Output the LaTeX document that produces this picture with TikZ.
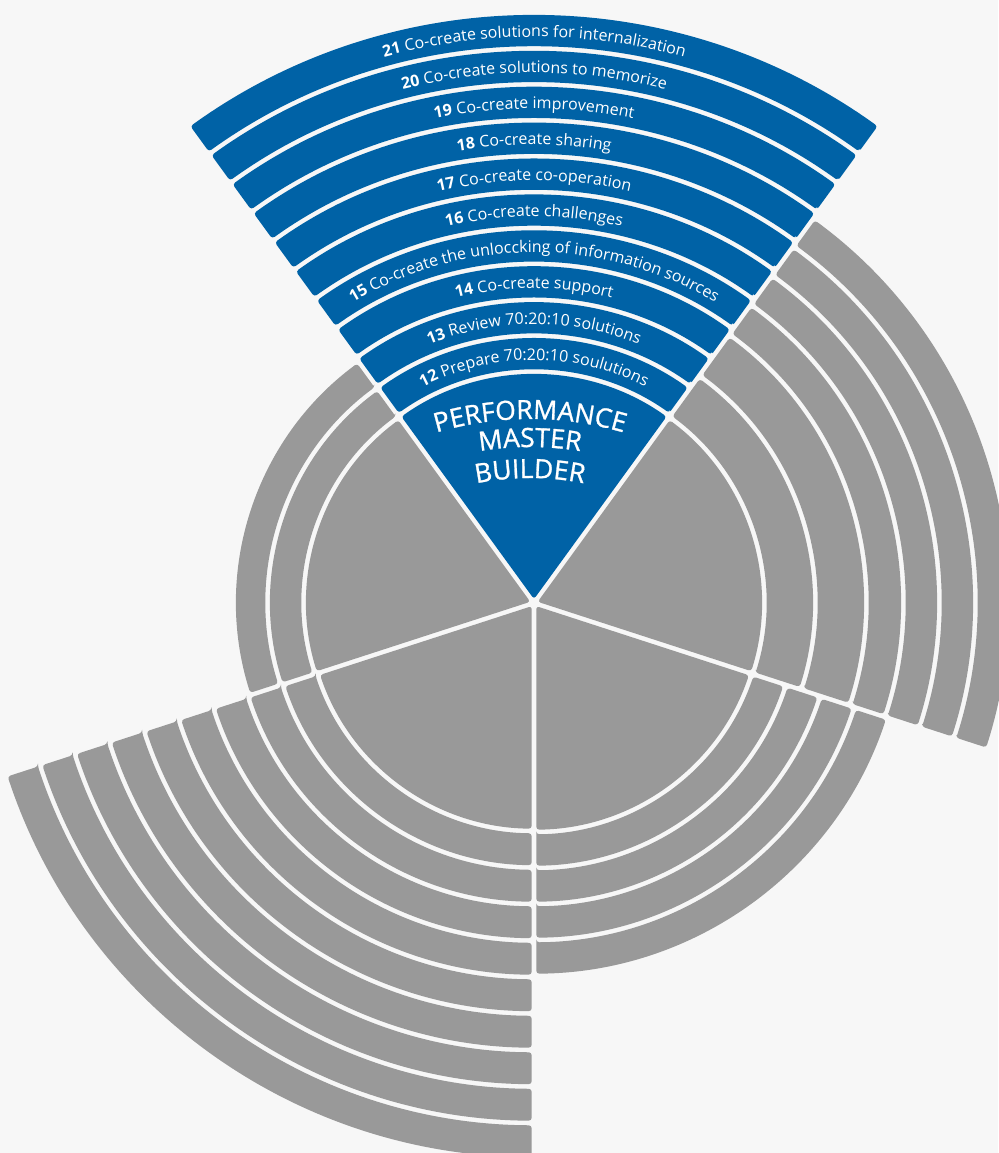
\documentclass[tikz,border=0pt]{standalone}
\usepackage{fontspec}
\setmainfont{Open Sans}
\usepackage{tikz}
\usetikzlibrary{decorations.text}

\definecolor{pmblue}{RGB}{0,98,166}
\definecolor{pmgrey}{RGB}{153,153,153}
\definecolor{pmbg}{RGB}{247,247,247}

\newcommand{\ringfont}{\fontsize{16}{19}\selectfont}
\newfontfamily\pmfamily[FakeBold=1]{Open Sans}
\newcommand{\pmfont}{\pmfamily\fontsize{26.5}{31}\selectfont}

% ring piece: fill, from angle, to angle, inner r, outer r
\newcommand{\ringseg}[5]{%
  \pgfmathsetmacro{\rIn}{#4+2.3}%
  \pgfmathsetmacro{\rOut}{#5-2.3}%
  \pgfmathsetmacro{\dIn}{asin(2.3/\rIn)}%
  \pgfmathsetmacro{\dOut}{asin(2.3/\rOut)}%
  \fill[#1,rounded corners=3pt] ({#2+\dIn}:\rIn) -- ({#2+\dOut}:\rOut)
    arc[start angle={#2+\dOut},end angle={#3-\dOut},radius=\rOut]
    -- ({#3-\dIn}:\rIn)
    arc[start angle={#3-\dIn},end angle={#2+\dIn},radius=\rIn] -- cycle;}
% centre piece: fill, from angle, to angle, r
\newcommand{\wedgeseg}[4]{%
  \pgfmathsetmacro{\rOut}{#4-2.3}%
  \pgfmathsetmacro{\dOut}{asin(2.3/\rOut)}%
  \pgfmathsetmacro{\rTip}{2.3/sin((#3-(#2))/2)}%
  \fill[#1,rounded corners=3pt] ({(#2+#3)/2}:\rTip) -- ({#2+\dOut}:\rOut)
    arc[start angle={#2+\dOut},end angle={#3-\dOut},radius=\rOut] -- cycle;}

\begin{document}
\begin{tikzpicture}[x=1pt,y=1pt]
\useasboundingbox[fill=pmbg] (-534,-550) rectangle (464,603);
\coordinate (c) at (0,0);
% centre pieces
\foreach \a/\col/\r in {54/pmblue/231,126/pmgrey/230,198/pmgrey/228,270/pmgrey/229,-18/pmgrey/230}
  {\wedgeseg{\col}{\a}{\a+72}{\r}}
% blue rings 12 to 21
\foreach \k in {0,...,9}
  {\ringseg{pmblue}{54}{126}{231+\k*35.9}{231+(\k+1)*35.9}}
% grey rings
\foreach \r/\s in {230/266,266/300}
  {\ringseg{pmgrey}{126}{198}{\r}{\s}}
\foreach \k in {0,...,8}
  {\ringseg{pmgrey}{198}{270}{228+\k*36.5}{228+(\k+1)*36.5}}
\foreach \r/\s in {229/265,265/301,301/337,337/373}
  {\ringseg{pmgrey}{270}{342}{\r}{\s}}
\foreach \r/\s in {230/281,281/332,332/369,369/405,405/441,441/477}
  {\ringseg{pmgrey}{-18}{54}{\r}{\s}}
% ring labels
\foreach \k/\num/\txt in {0/12/Prepare 70:20:10 soulutions,1/13/Review 70:20:10 solutions,
    2/14/Co-create support,3/15/Co-create the unloccking of information sources,
    4/16/Co-create challenges,5/17/Co-create co-operation,6/18/Co-create sharing,
    7/19/Co-create improvement,8/20/Co-create solutions to memorize,
    9/21/Co-create solutions for internalization}{
  \pgfmathsetmacro{\rb}{231+(\k+0.5)*35.9-6}
  \path[decorate,decoration={text along path,text align=center,text color=white,
      text/.expanded={|\noexpand\ringfont\noexpand\bfseries|\num\space|\noexpand\ringfont|\txt}}]
    (126:\rb) arc[start angle=126,end angle=54,radius=\rb];
}
% centre title
\foreach \r/\word in {330/PERFORMANCE,302/MASTER,271/BUILDER}
  \path[decorate,decoration={text along path,text align=center,text color=white,
      text/.expanded={|\noexpand\pmfont|\word}}]
    ([shift={(-4,-146)}]125:\r) arc[start angle=125,end angle=55,radius=\r];
\end{tikzpicture}
\end{document}
